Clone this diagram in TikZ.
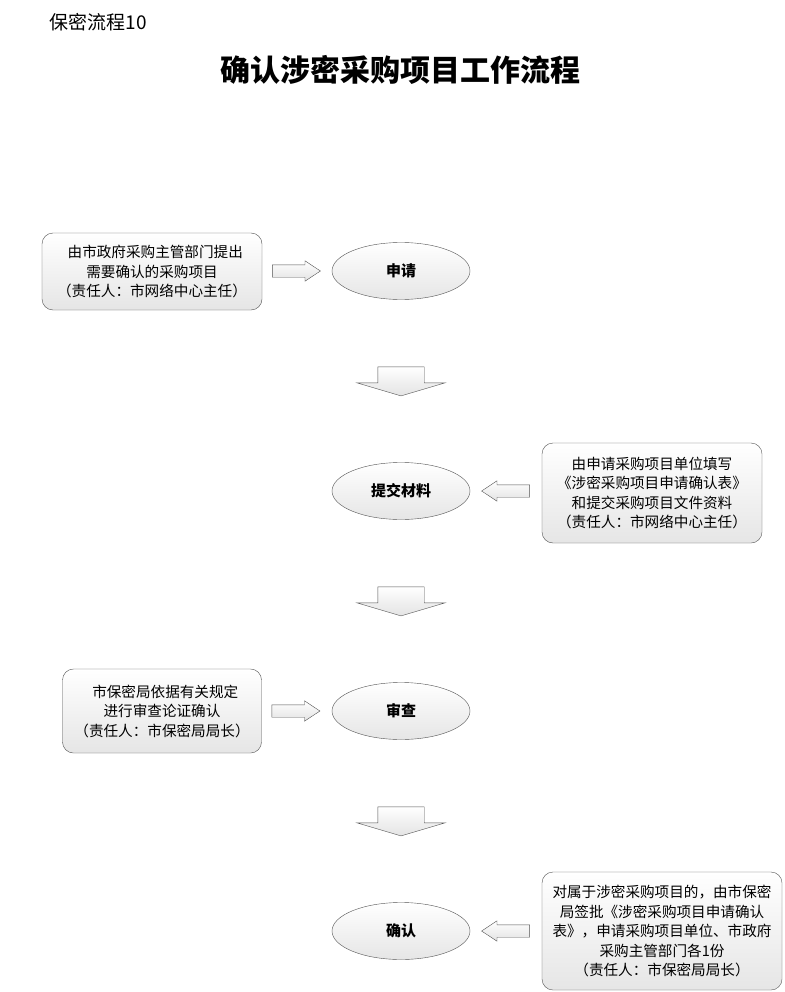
\documentclass[tikz,border=0pt]{standalone}
\usepackage{fontspec}
\setmainfont{Noto Sans CJK SC}
\usetikzlibrary{shapes,arrows,positioning,calc,shapes.geometric}

\begin{document}
\begin{tikzpicture}[x=1pt, y=1pt,
    box/.style={draw=gray!65!black, rounded corners=11pt, top color=white, bottom color=gray!20, align=center, font=\fontsize{14.6}{19.5}\selectfont, inner sep=3pt},
    stage/.style={draw=gray!65!black, ellipse, top color=white, bottom color=gray!20, minimum width=138pt, minimum height=57pt, font=\fontsize{15}{17}\selectfont\bfseries},
    sidearrow/.style={single arrow, draw=gray!65!black, top color=white, bottom color=gray!22, minimum height=48pt, minimum width=20pt, inner xsep=0pt, inner ysep=6pt, single arrow head extend=4pt, single arrow tip angle=67, anchor=tail},
    downarrow/.style={single arrow, draw=gray!65!black, top color=white, bottom color=gray!22, shape border rotate=270, minimum height=29pt, minimum width=88pt, inner xsep=23pt, inner ysep=0pt, single arrow head extend=21pt, single arrow tip angle=147, anchor=tail}]
    \useasboundingbox[fill=white] (0,0) rectangle (784,-992);

    % Heading
    \node[anchor=west, font=\fontsize{19}{22}\selectfont] (tag) at (46,-22) {保密流程10};
    \node[font=\fontsize{30}{33}\selectfont\bfseries] (title) at (400,-70) {确认涉密采购项目工作流程};

    % Stages
    \node[stage] (apply) at (401,-271) {申请};
    \node[stage] (submit) at (401,-491) {提交材料};
    \node[stage] (review) at (401,-711) {审查};
    \node[stage] (confirm) at (401,-931) {确认};

    % Notes
    \node[box, minimum width=220pt, minimum height=77pt] (note1) at (152,-271.5) {\ \ 由市政府采购主管部门提出\\需要确认的采购项目\\（责任人：市网络中心主任）};
    \node[box, minimum width=220pt, minimum height=100pt] (note2) at (652,-493) {由申请采购项目单位填写\\《涉密采购项目申请确认表》\\和提交采购项目文件资料\\（责任人：市网络中心主任）};
    \node[box, minimum width=199pt, minimum height=84pt] (note3) at (162,-711) {\ \ 市保密局依据有关规定\\进行审查论证确认\\（责任人：市保密局局长）};
    \node[box, minimum width=240pt, minimum height=118pt] (note4) at (662,-931) {对属于涉密采购项目的，由市保密\\局签批《涉密采购项目申请确认\\表》，申请采购项目单位、市政府\\采购主管部门各1份\\（责任人：市保密局局长）};

    % Side arrows
    \node[sidearrow] (in1) at ($(note1.east |- apply)+(10,0)$) {};
    \node[sidearrow, shape border rotate=180] (in2) at ($(note2.west |- submit)+(-12,0)$) {};
    \node[sidearrow] (in3) at ($(note3.east |- review)+(10,0)$) {};
    \node[sidearrow, shape border rotate=180] (in4) at ($(note4.west |- confirm)+(-12,0)$) {};

    % Flow arrows
    \node[downarrow] (step1) at ($(apply.south)+(0,-67)$) {};
    \node[downarrow] (step2) at ($(submit.south)+(0,-67)$) {};
    \node[downarrow] (step3) at ($(review.south)+(0,-67)$) {};
\end{tikzpicture}
\end{document}
